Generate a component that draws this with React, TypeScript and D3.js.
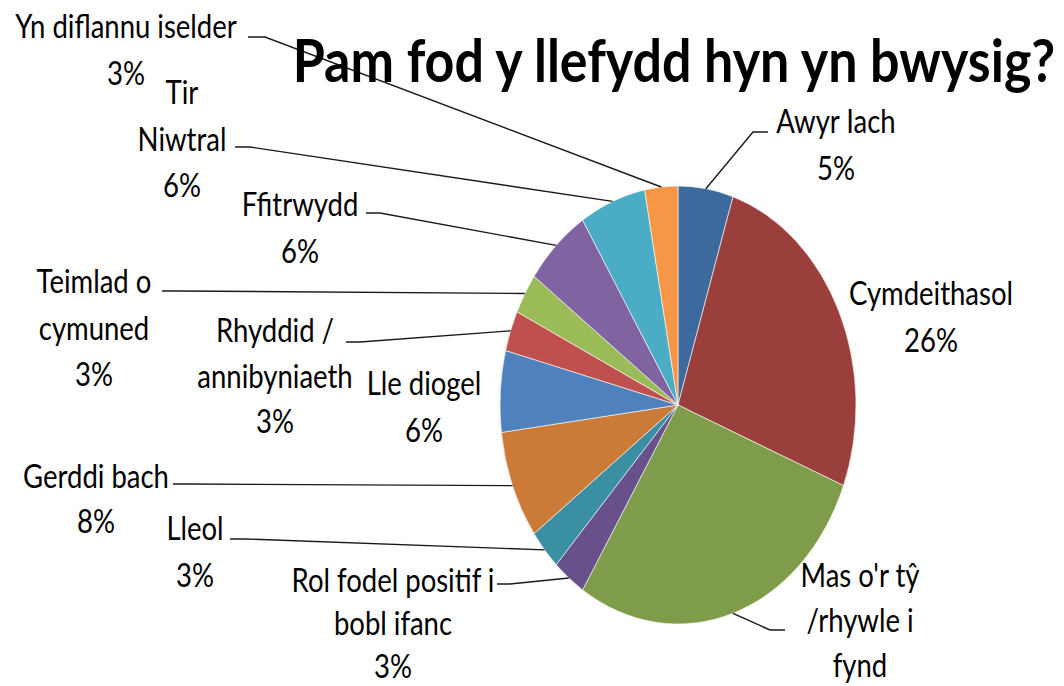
import React from "react";
import * as d3 from "d3";

// ---- data ----
const categories = [
  "Awyr Iach",
  "Cymdeithasol",
  "Mas o'r tŷ /rhywle i fynd",
  "Rol fodel positif i bobl ifanc",
  "Lleol",
  "Gerddi bach",
  "Lle diogel",
  "Rhyddid / annibyniaeth",
  "Teimlad o cymuned",
  "Ffitrwydd",
  "Tir Niwtral",
  "Yn diflannu iselder",
];
const values = [5, 26, 28, 3, 3, 8, 6, 3, 3, 6, 6, 3];
const colors = [
  "#3D6A9C", "#9B3F3D", "#7F9C4A", "#68508A", "#3A8FA3", "#CB7A38",
  "#4F81BD", "#C0504D", "#9BBB59", "#8064A2", "#4BACC6", "#F79646",
];
// label text lines (the percentage line is appended from values)
const labelLines = [
  ["Awyr Iach"],
  ["Cymdeithasol"],
  ["Mas o'r tŷ", "/rhywle i", "fynd"],
  ["Rol fodel positif i", "bobl ifanc"],
  ["Lleol"],
  ["Gerddi bach"],
  ["Lle diogel"],
  ["Rhyddid /", "annibyniaeth"],
  ["Teimlad o", "cymuned"],
  ["Ffitrwydd"],
  ["Tir", "Niwtral"],
  ["Yn diflannu iselder"],
];
const showPct = [true, true, false, true, true, true, true, true, true, true, true, true];
const title = "Pam fod y llefydd hyn yn bwysig?";

// ---- layout (positions of label blocks and leader starts) ----
const labelLayout = [
  { x: 836, y: 133, gap: 46.5, lead: [768, 132, 753, 132] },
  { x: 931, y: 305, gap: 46.5, lead: null },
  { x: 860, y: 587, gap: 45, lead: [785, 630, 770, 630] },
  { x: 393, y: 592, gap: 43, lead: [497, 584, 510, 584] },
  { x: 195, y: 540, gap: 46.5, lead: [230, 539, 245, 539] },
  { x: 96, y: 488, gap: 45, lead: [173, 484, 188, 484] },
  { x: 424, y: 395, gap: 46.5, lead: null },
  { x: 275, y: 342, gap: 45.5, lead: [346, 342, 360, 342] },
  { x: 94, y: 293, gap: 46.5, lead: [162, 291, 177, 291] },
  { x: 300, y: 216, gap: 46.5, lead: [366, 213, 380, 213] },
  { x: 182, y: 104, gap: 46.5, lead: [235, 147, 250, 147] },
  { x: 126, y: 38, gap: 46.5, lead: [248, 37, 265, 37] },
];

const W = 1064;
const H = 686;
const CX = 678;
const CY = 405;
const RX = 178;
const RY = 219;
const SY = 1.16;
const FONT = "Lato, 'Open Sans', sans-serif";

function Txt({ x, y, children, size, weight, sy }: any) {
  return (
    <text
      transform={`translate(${x},${y}) scale(1,${sy})`}
      textAnchor="middle"
      fontFamily={FONT}
      fontSize={size}
      fontWeight={weight || 400}
      fill="#000"
    >
      {children}
    </text>
  );
}

export default function App() {
  const pie = d3
    .pie<number>()
    .sort(null)
    .value((d) => d);
  const arcs = pie(values);
  const arc = d3.arc<d3.PieArcDatum<number>>().innerRadius(0).outerRadius(RX);
  const fmt = d3.format(".0%");
  const total = d3.sum(values);

  return (
    <svg
      width={W}
      height={H}
      style={{ position: "absolute", left: 0, top: 0, background: "#fff" }}
    >
      <rect x={0} y={0} width={W} height={H} fill="#fff" />
      <g transform={`translate(${CX},${CY}) scale(1,${RY / RX})`}>
        {arcs.map((a, i) => (
          <path
            key={i}
            d={arc(a) || ""}
            fill={colors[i]}
            stroke="#fff"
            strokeWidth={0.6}
            vectorEffect="non-scaling-stroke"
          />
        ))}
      </g>
      {arcs.map((a, i) => {
        const L = labelLayout[i];
        if (!L.lead) return null;
        const m = (a.startAngle + a.endAngle) / 2;
        const ex = CX + RX * Math.sin(m);
        const ey = CY - RY * Math.cos(m);
        const [sx, sy0, bx, by] = L.lead;
        return (
          <polyline
            key={"l" + i}
            points={`${sx},${sy0} ${bx},${by} ${ex},${ey}`}
            fill="none"
            stroke="#1a1a1a"
            strokeWidth={1.4}
          />
        );
      })}
      <Txt x={674} y={82} size={52} weight={700} sy={1.15}>
        {title}
      </Txt>
      {arcs.map((a, i) => {
        const L = labelLayout[i];
        const lines = [...labelLines[i]];
        if (showPct[i]) lines.push(fmt(values[i] / total));
        return (
          <g key={"t" + i}>
            {lines.map((s, j) => (
              <Txt key={j} x={L.x} y={L.y + j * L.gap} size={27.5} sy={SY}>
                {s}
              </Txt>
            ))}
          </g>
        );
      })}
    </svg>
  );
}
